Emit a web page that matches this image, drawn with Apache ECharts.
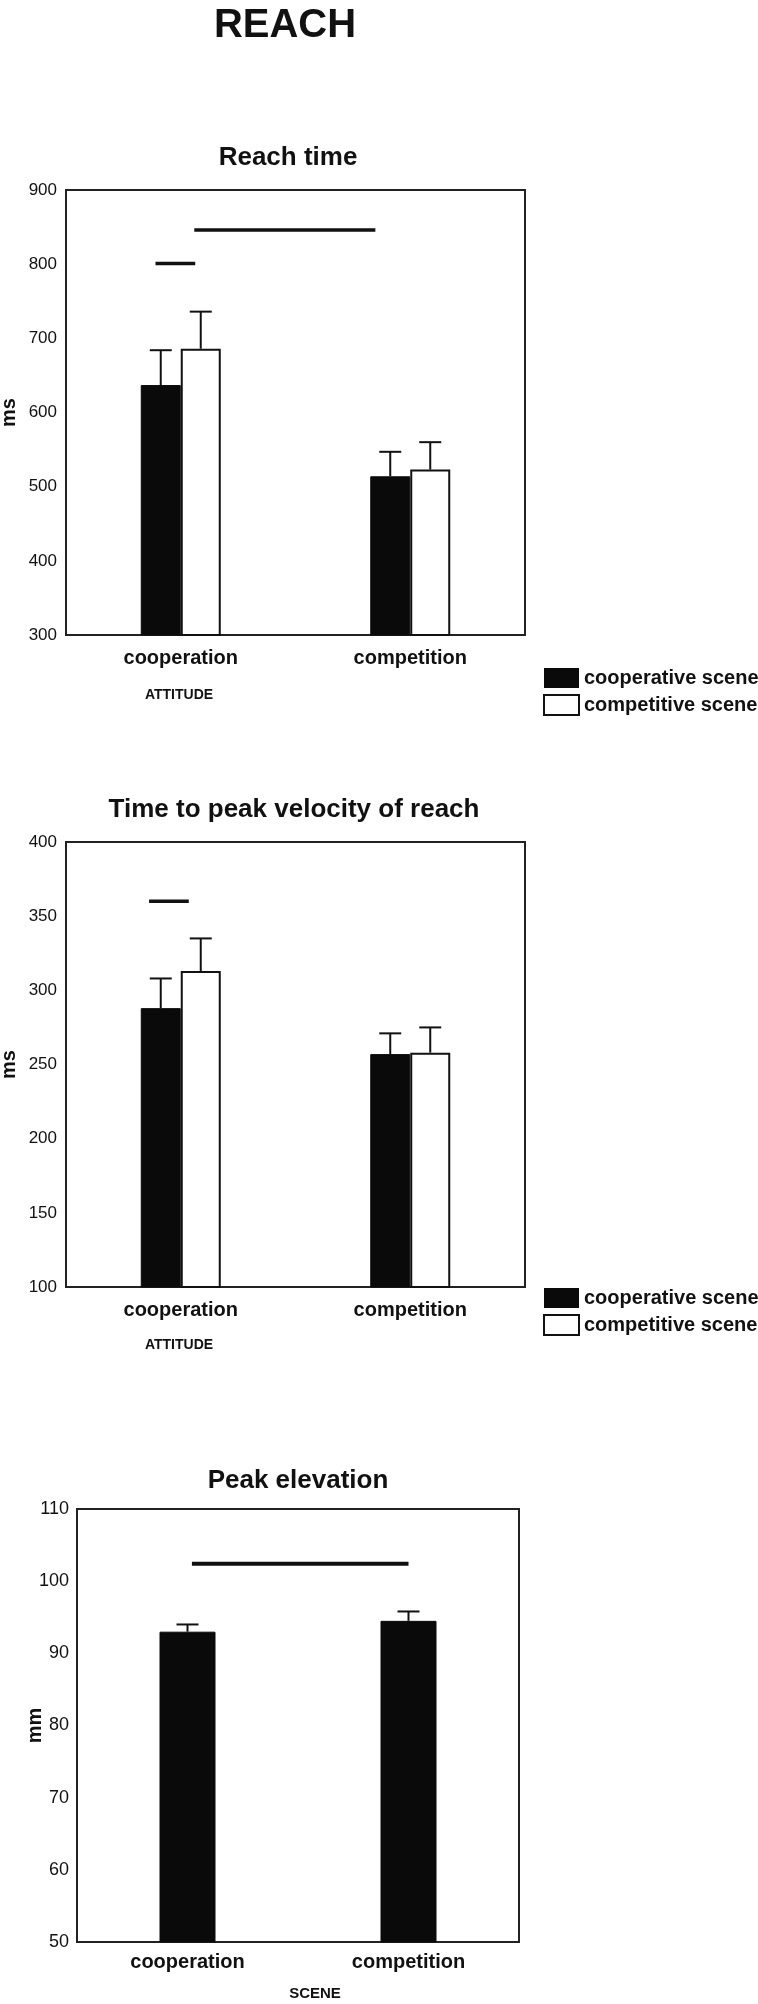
<!DOCTYPE html>
<html>
<head>
<meta charset="utf-8">
<title>REACH</title>
<script src="https://cdn.jsdelivr.net/npm/echarts@6/dist/echarts.min.js"></script>
<style>
	html, body {margin: 0; padding: 0; background: #fff;}
	#chart {width: 758px; height: 2004px;}
</style>
</head>
<body>
<div id="chart"></div>
<script>
const FONT = '"Liberation Sans", Arial, Helvetica, sans-serif';
const INK = '#111';

// categories shared by all three panels
const categories = ['cooperation', 'competition'];
const seriesNames = ['cooperative scene', 'competitive scene'];

// reach time (ms): means and standard errors
const reachCoop = [637, 514];
const reachComp = [686, 523];
const reachCoopErr = [47, 33];
const reachCompErr = [50, 37];

// time to peak velocity of reach (ms)
const tpvCoop = [288, 257];
const tpvComp = [313, 258];
const tpvCoopErr = [20, 14];
const tpvCompErr = [22, 17];

// peak elevation (mm), by scene
const elevation = [93.0, 94.5];
const elevationErr = [1.0, 1.3];

// significance bars: [from, to, level], x on a 0..2 category span
const reachSig = [[0.39, 0.563, 801], [0.559, 1.348, 846]];
const tpvSig = [[0.362, 0.535, 360]];
const elevSig = [[0.52, 1.5, 102.4]];

// y axis ticks
const reachTicks = {min: 300, max: 900, interval: 100};
const tpvTicks = {min: 100, max: 400, interval: 50};
const elevTicks = {min: 50, max: 110, interval: 10};

const grids = [
	{left: 66, top: 190, width: 459, height: 445},
	{left: 66, top: 842, width: 459, height: 445},
	{left: 77, top: 1509, width: 442, height: 433},
];

function catAxis(gridIndex, name, nameGap, namePadding, nameSize, labelMargin) {
	return {
		type: 'category',
		gridIndex,
		data: categories,
		axisLine: {show: false},
		axisTick: {show: false},
		axisLabel: {
			margin: labelMargin,
			color: INK,
			fontFamily: FONT,
			fontWeight: 'bold',
			fontSize: 20,
		},
		name,
		nameLocation: 'middle',
		nameGap,
		nameMoveOverlap: false,
		nameTextStyle: {
			color: INK,
			fontFamily: FONT,
			fontWeight: 'bold',
			fontSize: nameSize,
			padding: namePadding,
		},
	};
}

function spanAxis(gridIndex) {
	return {type: 'value', gridIndex, min: 0, max: 2, show: false};
}

function valAxis(gridIndex, ticks, name, nameGap, labelSize, labelMargin) {
	return {
		type: 'value',
		gridIndex,
		...ticks,
		splitLine: {show: false},
		axisLine: {show: false},
		axisTick: {show: false},
		axisLabel: {margin: labelMargin, color: INK, fontFamily: FONT, fontSize: labelSize},
		name,
		nameLocation: 'middle',
		nameRotate: 90,
		nameGap,
		nameMoveOverlap: false,
		nameTextStyle: {color: INK, fontFamily: FONT, fontWeight: 'bold', fontSize: 20},
	};
}

const blackStyle = {color: '#0a0a0a', borderColor: '#0a0a0a', borderWidth: 1};
const whiteStyle = {color: '#ffffff', borderColor: INK, borderWidth: 2};

function bars(name, axis, values, style, width) {
	return {
		name,
		type: 'bar',
		xAxisIndex: axis,
		yAxisIndex: axis,
		data: values,
		barWidth: width,
		barGap: '0%',
		itemStyle: style,
		emphasis: {disabled: true},
		z: 2,
	};
}

// upward error bar, shifted to the middle of its bar
function errorBars(axis, values, errs, offset, cap) {
	return {
		type: 'custom',
		xAxisIndex: axis,
		yAxisIndex: axis,
		data: values.map((v, i) => [i, v, v + errs[i]]),
		encode: {x: 0, y: [1, 2]},
		z: 3,
		silent: true,
		renderItem(params, api) {
			const base = api.coord([api.value(0), api.value(1)]);
			const top = api.coord([api.value(0), api.value(2)]);
			const x = base[0] + offset;
			const style = {stroke: INK, lineWidth: 2};
			return {
				type: 'group',
				children: [
					{type: 'line', shape: {x1: x, y1: base[1], x2: x, y2: top[1]}, style},
					{type: 'line', shape: {x1: x - cap / 2, y1: top[1], x2: x + cap / 2, y2: top[1]}, style},
				],
			};
		},
	};
}

function sigBars(gridIndex, lines, thickness) {
	return {
		type: 'custom',
		xAxisIndex: 3 + gridIndex,
		yAxisIndex: gridIndex,
		data: lines,
		encode: {x: [0, 1], y: 2},
		z: 3,
		silent: true,
		renderItem(params, api) {
			const a = api.coord([api.value(0), api.value(2)]);
			const b = api.coord([api.value(1), api.value(2)]);
			return {
				type: 'line',
				shape: {x1: a[0], y1: a[1], x2: b[0], y2: b[1]},
				style: {stroke: INK, lineWidth: thickness},
			};
		},
	};
}

function legendAt(top) {
	return {
		orient: 'vertical',
		left: 543,
		top,
		padding: 0,
		itemWidth: 35,
		itemHeight: 20,
		itemGap: 6,
		icon: 'rect',
		selectedMode: false,
		textStyle: {color: INK, fontFamily: FONT, fontWeight: 'bold', fontSize: 20},
		data: [
			{name: seriesNames[0], itemStyle: {color: '#0a0a0a', borderWidth: 0}},
			{name: seriesNames[1], itemStyle: {color: '#fff', borderColor: INK, borderWidth: 2}},
		],
	};
}

function titleAt(text, x, top, size) {
	return {
		text,
		left: x,
		top,
		padding: 0,
		textAlign: 'center',
		textStyle: {color: INK, fontFamily: FONT, fontWeight: 'bold', fontSize: size},
	};
}

const chart = echarts.init(document.getElementById('chart'), null, {renderer: 'canvas'});

chart.setOption({
	backgroundColor: '#fff',
	animation: false,
	title: [
		titleAt('REACH', 285, 6, 40),
		titleAt('Reach time', 288, 145, 26),
		titleAt('Time to peak velocity of reach', 294, 797, 26),
		titleAt('Peak elevation', 298, 1468, 26),
	],
	legend: [legendAt(668), legendAt(1288)],
	// fixed plot boxes: don't let the v6 outer bounds push them around
	grid: grids.map(g => ({
		...g,
		outerBoundsMode: 'none',
		show: true,
		borderColor: '#222',
		borderWidth: 2,
		backgroundColor: 'transparent',
	})),
	xAxis: [
		catAxis(0, 'ATTITUDE', 53, [0, 233, 0, 0], 14, 13),
		catAxis(1, 'ATTITUDE', 51, [0, 233, 0, 0], 14, 13),
		catAxis(2, 'SCENE', 44, [0, 0, 0, 34], 15, 10),
		spanAxis(0),
		spanAxis(1),
		spanAxis(2),
	],
	yAxis: [
		valAxis(0, reachTicks, 'ms', 47, 17, 9),
		valAxis(1, tpvTicks, 'ms', 47, 17, 9),
		valAxis(2, elevTicks, 'mm', 32, 18, 8),
	],
	series: [
		bars(seriesNames[0], 0, reachCoop, blackStyle, 40),
		bars(seriesNames[1], 0, reachComp, whiteStyle, 40),
		errorBars(0, reachCoop, reachCoopErr, -20, 22),
		errorBars(0, reachComp, reachCompErr, 20, 22),
		sigBars(0, reachSig, 3.5),

		bars(seriesNames[0], 1, tpvCoop, blackStyle, 40),
		bars(seriesNames[1], 1, tpvComp, whiteStyle, 40),
		errorBars(1, tpvCoop, tpvCoopErr, -20, 22),
		errorBars(1, tpvComp, tpvCompErr, 20, 22),
		sigBars(1, tpvSig, 3.5),

		bars('Peak elevation', 2, elevation, blackStyle, 56),
		errorBars(2, elevation, elevationErr, 0, 22),
		sigBars(2, elevSig, 4),
	],
});
</script>
</body>
</html>
